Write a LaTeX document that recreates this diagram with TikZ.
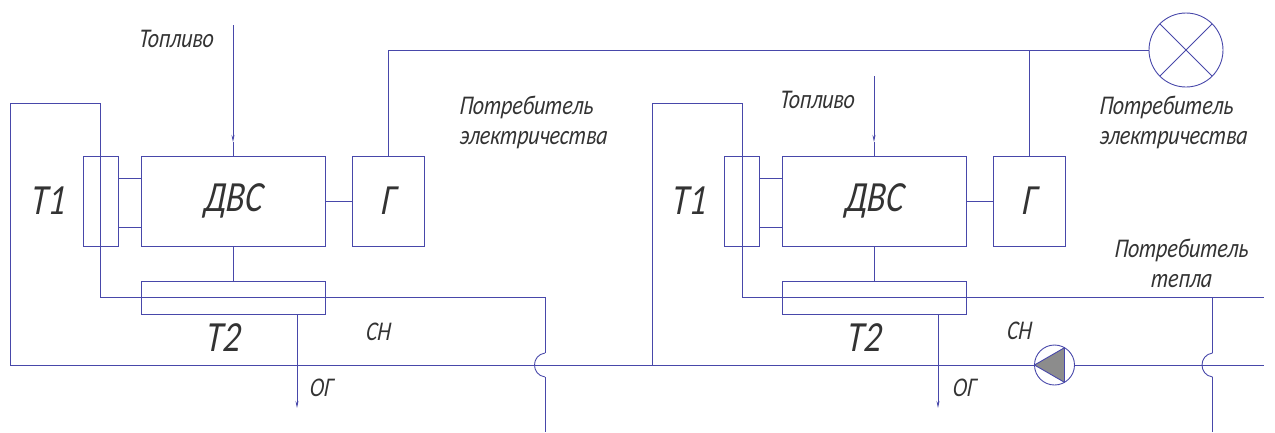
\documentclass[tikz,border=0pt]{standalone}
\usepackage{fontspec}
\setmainfont{Carlito}[FakeStretch=0.8,ItalicFeatures={FakeSlant=0.1}]
\usetikzlibrary{positioning,arrows.meta}
\definecolor{linecol}{RGB}{72,72,170}
\begin{document}
\begin{tikzpicture}[x=1pt,y=-1pt,line width=0.9pt,draw=linecol,
  every node/.style={outer sep=0pt,inner sep=0pt,text=black!80},
  unitbox/.style={draw=linecol,rectangle,minimum height=90pt},
  bigtext/.style={font=\fontsize{43}{43}\selectfont\itshape},
  smalltext/.style={font=\fontsize{27}{30}\selectfont\itshape,align=left},
  tinytext/.style={font=\fontsize{27}{27}\selectfont\itshape},
  tiparrow/.style={-{Stealth[length=7pt,width=3pt]},line width=0.8pt}]
\useasboundingbox (0,0) rectangle (1275,432);
% first unit
\node[unitbox,bigtext,minimum width=184pt] (dvsa) at (233,201) {ДВС};
\node[unitbox,minimum width=35pt,left=23pt of dvsa] (toa) {};
\node[unitbox,bigtext,minimum width=72pt,right=27pt of dvsa] (gena) {Г};
\node[unitbox,minimum width=184pt,minimum height=33pt,below=35pt of dvsa] (tta) {};
\node[bigtext,left=18pt of toa] (labtoa) {Т1};
\node[bigtext,below=10pt of tta,xshift=-10pt] (labtta) {Т2};
\node[tinytext] (cha) at (378,332) {СН};
\node[tinytext] (oga) at (321,388) {ОГ};
\node[tinytext] (fuela) at (176,39) {Топливо};
\node[smalltext] (consa) at (533,122) {Потребитель\\электричества};
\coordinate (fueltopa) at (233,25);
\coordinate (ogenda) at (297,408);
\coordinate (mainl) at (10,365);
\coordinate (topa) at (100.5,103);
\coordinate (jumpa) at (545,365);
\coordinate (enda) at (545,432);
\draw[tiparrow] (fueltopa) -- ([yshift=14pt]dvsa.north);
\draw ([yshift=14pt]dvsa.north) -- (dvsa.north);
\draw ([yshift=23pt]toa.east) -- ([yshift=23pt]dvsa.west);
\draw ([yshift=-26pt]toa.east) -- ([yshift=-26pt]dvsa.west);
\draw (dvsa.east) -- (gena.west);
\draw (dvsa.south) -- (tta.north);
\draw[tiparrow] (tta.south -| ogenda) -- (ogenda);
\draw (mainl) |- (topa) |- (tta.center) -| ([yshift=12pt]jumpa);
\draw ([yshift=12pt]jumpa) .. controls +(-14,2) and +(-14,-2) .. ([yshift=-12pt]jumpa);
\draw ([yshift=-12pt]jumpa) -- (enda);
% second unit
\node[unitbox,bigtext,minimum width=184pt] (dvsb) at (874,201) {ДВС};
\node[unitbox,minimum width=35pt,left=23pt of dvsb] (tob) {};
\node[unitbox,bigtext,minimum width=72pt,right=27pt of dvsb] (genb) {Г};
\node[unitbox,minimum width=184pt,minimum height=33pt,below=35pt of dvsb] (ttb) {};
\node[bigtext,left=18pt of tob] (labtob) {Т1};
\node[bigtext,below=10pt of ttb,xshift=-10pt] (labttb) {Т2};
\node[tinytext] (chb) at (1019,331) {СН};
\node[tinytext] (ogb) at (964,388) {ОГ};
\node[tinytext] (fuelb) at (817,100) {Топливо};
\node[smalltext] (consb) at (1173,122) {Потребитель\\электричества};
\node[smalltext,align=center] (heat) at (1181,263) {Потребитель\\тепла};
\coordinate (fueltopb) at (874,76);
\coordinate (ogendb) at (938,408);
\coordinate (mainb) at (652,365);
\coordinate (topb) at (742,103);
\coordinate (mainr) at (1264,365);
\coordinate (jumpb) at (1212.5,365);
\coordinate (endb) at (1212.5,432);
\draw[tiparrow] (fueltopb) -- ([yshift=14pt]dvsb.north);
\draw ([yshift=14pt]dvsb.north) -- (dvsb.north);
\draw ([yshift=23pt]tob.east) -- ([yshift=23pt]dvsb.west);
\draw ([yshift=-26pt]tob.east) -- ([yshift=-26pt]dvsb.west);
\draw (dvsb.east) -- (genb.west);
\draw (dvsb.south) -- (ttb.north);
\draw[tiparrow] (ttb.south -| ogendb) -- (ogendb);
\draw (mainb) |- (topb) |- (ttb.center) -- (mainr |- ttb.center);
\draw (jumpb |- ttb.center) -- ([yshift=12pt]jumpb);
\draw ([yshift=12pt]jumpb) .. controls +(-14,2) and +(-14,-2) .. ([yshift=-12pt]jumpb);
\draw ([yshift=-12pt]jumpb) -- (endb);
% lamp and pump
\node[draw=linecol,circle,minimum size=74pt] (lamp) at (1186,50) {};
\draw (lamp.45) -- (lamp.225);
\draw (lamp.135) -- (lamp.315);
\draw (gena.north) |- (lamp.west);
\draw (genb.north) -- (genb.north |- lamp.west);
\node[draw=linecol,circle,minimum size=40pt] (pump) at (1054.5,365) {};
\draw[fill=black!45] (pump.180) -- (pump.60) -- (pump.300) -- cycle;
\draw (mainl) -- (pump.west);
\draw (pump.east) -- (mainr);
\end{tikzpicture}
\end{document}
